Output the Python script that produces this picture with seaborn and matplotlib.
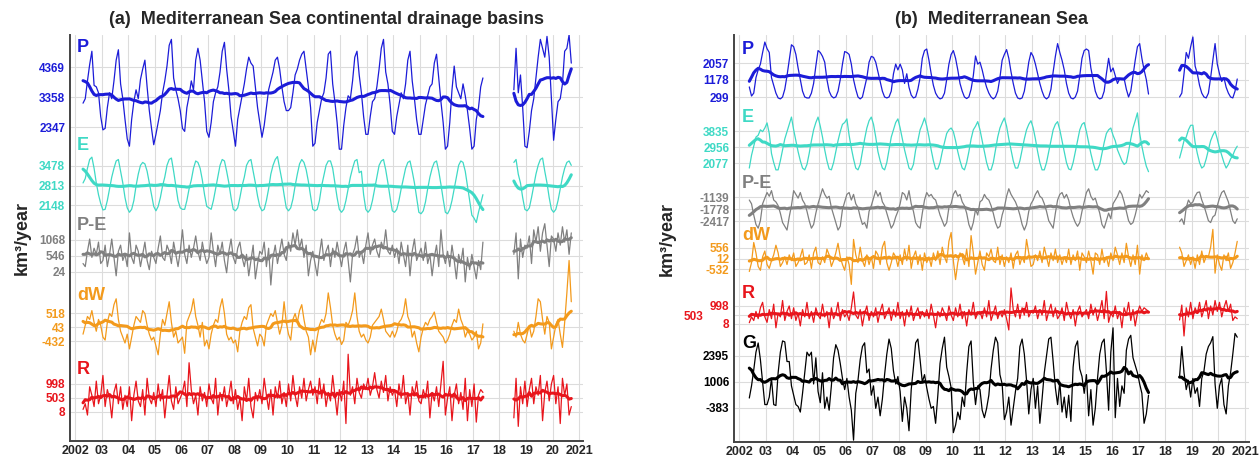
import numpy as np
import pandas as pd
import matplotlib
matplotlib.use("Agg")
import matplotlib.pyplot as plt
import seaborn as sns

N = np.nan
YEARS = list(range(2002, 2021))  # monthly values, Jan 2002 .. Dec 2020

# ---- (a) continental drainage basins, km3/year -------------------------
a_P = [
    N, N, N, 3150, 3300, 3900, 4450, 4900, 3750, 3700, 3500, 2700,
    2250, 2300, 3000, 3500, 3300, 3900, 4600, 4950, 3800, 3300, 2600, 1950,
    1700, 2600, 3200, 3600, 3300, 3950, 4300, 4600, 3700, 2900, 2300, 1750,
    2100, 2500, 2900, 3500, 3900, 4400, 5100, 5300, 4000, 3600, 3300, 2900,
    2300, 2200, 3000, 3400, 3900, 3600, 4600, 5000, 4600, 3900, 3200, 2200,
    2000, 2500, 3200, 3500, 3700, 4200, 4900, 5200, 4300, 3600, 2700, 2200,
    1700, 2600, 3000, 3400, 3800, 4300, 4700, 4500, 4400, 3700, 3000, 2500,
    2000, 2400, 3000, 3600, 3900, 4200, 4600, 4700, 4300, 3700, 3200, 2900,
    2900, 3000, 3500, 4100, 4300, 4600, 4800, 4900, 4300, 3700, 3000, 1700,
    1800, 2500, 2900, 3300, 3500, 4000, 4800, 4900, 3800, 3200, 2500, 1600,
    1600, 2400, 3000, 3400, 3300, 3900, 4700, 4900, 4100, 3500, 2700, 2100,
    2100, 2700, 3200, 3300, 3700, 4300, 5000, 5300, 4200, 3800, 3100, 2200,
    2100, 2700, 3100, 3500, 3300, 3800, 4600, 4900, 3900, 3300, 2600, 2100,
    2100, 2600, 3100, 3400, 3700, 3800, 4500, 4800, 4000, 3200, 2500, 1600,
    1700, 2500, 3600, 4400, 3700, 3500, 3300, 3800, 3400, 2900, 2300, 1600,
    1700, 2600, 3000, 3700, 4000, N, N, N, N, N, N, N,
    N, N, N, N, N, N, 3600, 5000, 3500, 4100, 3000, 1700,
    1650, 2200, 2900, 3300, 4000, 4700, 5300, 5000, 4700, 5400, 4700, 3300,
    1900, 2600, 3200, 3300, 3800, 4900, 5000, 5450, 4500, N, N, N,
]
a_E = [
    N, N, N, 2900, 3050, 3400, 3700, 3780, 3400, 2900, 2500, 2200,
    1980, 2000, 2300, 2700, 3100, 3400, 3650, 3700, 3300, 2900, 2400, 2050,
    1900, 2000, 2300, 2800, 3200, 3500, 3600, 3550, 3300, 2900, 2500, 2100,
    1950, 2100, 2400, 2800, 3100, 3500, 3700, 3750, 3300, 2800, 2300, 2050,
    2000, 2000, 2300, 2700, 3000, 3400, 3650, 3600, 3400, 3000, 2500, 2100,
    2050, 2000, 2300, 2700, 3100, 3500, 3700, 3650, 3300, 2900, 2400, 2000,
    1950, 2050, 2400, 2800, 3100, 3500, 3650, 3700, 3300, 2900, 2450, 2100,
    1950, 2000, 2300, 2700, 3200, 3500, 3700, 3800, 3400, 3000, 2500, 2050,
    1950, 2050, 2350, 2800, 3200, 3550, 3700, 3600, 3350, 2950, 2450, 2000,
    1950, 2000, 2300, 2800, 3150, 3500, 3650, 3650, 3400, 2900, 2400, 2000,
    1900, 2000, 2300, 2700, 3100, 3400, 3650, 3700, 3250, 3300, 2500, 2000,
    1900, 2000, 2300, 2700, 3100, 3500, 3650, 3700, 3350, 2900, 2400, 1950,
    1900, 2000, 2300, 2700, 3050, 3400, 3600, 3650, 3300, 2900, 2400, 1900,
    1850, 1950, 2250, 2700, 3100, 3400, 3600, 3650, 3300, 2850, 2350, 1900,
    1850, 2000, 2300, 2700, 3100, 3500, 3650, 3600, 3300, 2800, 2300, 1800,
    1700, 1550, 1900, 2200, 2500, N, N, N, N, N, N, N,
    N, N, N, N, N, N, 3600, 3700, 3200, 2900, 2400, 2000,
    1950, 2050, 2400, 2800, 3200, 3500, 3700, 3750, 3300, 2900, 2400, 2000,
    1900, 2000, 2300, 2700, 3100, 3400, 3600, 3650, 3500, N, N, N,
]
a_PE = [
    N, N, N, 300, 200, 700, 1100, 500, 800, 600, 1000, 300,
    400, 900, 200, 600, 1100, 500, -100, 700, 900, 400, 600, 200,
    1300, 500, 300, 900, 700, 200, 600, 1000, 400, 100, 700, 500,
    300, 800, 1200, 500, 400, 900, 700, 300, 1000, 600, 200, 700,
    1400, 600, 300, 900, 500, 800, 1200, 700, 400, 1000, 600, 300,
    500, 1300, 700, 200, 900, 600, 1000, 400, 0, 700, 1100, 500,
    300, 800, 1000, 500, 200, 600, -100, 400, 900, -200, 300, 700,
    600, 1000, 200, 800, -400, 500, 900, 300, 700, 1100, 600, 400,
    1000, 700, 1300, 900, 1400, 800, 1100, 500, 900, -100, 400, 700,
    300, -100, 600, 1100, 400, 700, 900, 200, 800, 500, 1000, 600,
    200, 700, 1000, 400, -300, 600, 800, 1200, 500, 700, 300, 900,
    1300, 600, 900, 1100, 700, 500, 1000, 800, 1400, 700, 600, 900,
    500, 800, 300, 1000, 600, 200, 900, -100, 700, 1100, 400, 600,
    800, 400, 1000, 300, 600, -100, 500, 900, 200, 1400, 600, 300,
    700, 200, 900, 400, -200, 600, 300, 800, -300, 500, 100, 600,
    200, -200, 400, 100, 1000, N, N, N, N, N, N, N,
    N, N, N, N, N, N, 600, 1300, -200, 1100, 500, 900,
    800, 1200, 300, 1400, 1000, 1500, 700, 1300, 1600, 900, 200, 1200,
    1100, 700, 1300, 900, 1500, 1000, 1400, 600, 1300, N, N, N,
]
a_dW = [
    N, N, N, -200, 100, 400, 300, 600, 200, -100, 300, 100,
    -300, -400, 200, 500, 400, 800, 1000, 300, -100, -300, -500, -200,
    -700, -300, 100, 400, 300, 200, 600, 500, 100, -200, -400, -300,
    -600, -900, -200, 300, 100, 500, 900, 200, -300, -100, -500, -400,
    -300, -850, 200, 400, 600, 1000, 400, 100, -300, 200, -600, -400,
    -700, -200, 100, 300, 200, 700, 1000, 500, -200, -400, -300, -500,
    -400, -800, -100, 200, 400, 300, 700, 800, 0, -300, -600, -200,
    -300, -600, 100, 300, 500, 400, 600, 200, -200, 100, 900, 200,
    -200, -400, 300, 500, 200, 600, 800, 300, -100, -300, -900, -400,
    -800, -300, 100, 300, 200, 500, 1200, 700, 100, -200, -400, -300,
    -550, -400, 200, 100, 300, 600, 1200, 400, -100, -300, -200, -400,
    -500, -300, 100, 200, 300, 400, 650, 300, -100, -200, -300, -100,
    -300, -100, 200, 300, 500, 1000, 400, 200, -300, -100, -500, -800,
    -300, 0, 200, 100, 300, 400, 550, 200, -100, -200, -300, -500,
    -400, -200, 100, 300, 200, 650, 300, 100, -300, -100, -200, -400,
    -300, -100, -700, -500, 150, N, N, N, N, N, N, N,
    N, N, N, N, N, N, -100, -300, 200, -200, -400, -500,
    -200, 100, -300, -100, 400, 1000, 900, 300, -200, 400, 200, -700,
    -300, 100, 300, -200, -650, 200, 1200, 2300, 900, N, N, N,
]
a_R = [
    N, N, N, 100, 300, -100, 900, 600, 200, 1100, 300, 600,
    1300, 200, 800, 500, -200, 700, 1000, 300, 900, 100, 600, 200,
    900, -300, 600, 1100, 400, 200, 800, -100, 1200, 500, 300, 700,
    200, 1000, 400, 800, -200, 600, 1300, 400, 100, 900, 300, 500,
    700, 1100, 200, 1750, 800, 300, 600, -100, 900, 400, 700, 200,
    1000, 500, 300, 1200, -100, 700, 400, 900, 200, 600, 1100, 300,
    800, 100, 500, -300, 900, 400, 1200, 200, -200, 700, 400, 800,
    300, 1200, 600, 100, 800, -100, 900, 500, 1100, 300, 700, 200,
    1000, 400, 1300, 600, 200, 900, 500, 1200, 400, 800, 1100, 600,
    900, 300, 1200, 500, 1000, 200, 700, 400, 1300, 600, -100, 800,
    400, 1100, -400, 2050, 600, 900, 300, 1200, 700, 500, 1000, 800,
    1200, 600, 900, 1400, 800, 500, 1100, 700, 1300, 400, 900, 600,
    800, 200, 1000, 500, 1300, 300, 700, -100, 900, 600, 1100, 400,
    300, 800, 500, 1100, -200, 700, 400, 900, 200, 1000, 1800, -100,
    500, 900, -300, 600, 1000, 300, 700, 100, 1200, -300, 800, 200,
    1000, -350, 600, 800, 700, N, N, N, N, N, N, N,
    N, N, N, N, N, N, -200, 1200, -500, 900, 300, 1100,
    200, 800, 1200, 300, 900, 600, 1300, -300, 700, 1100, 400, 1000,
    1300, 300, 900, -400, 1200, 600, 1000, -100, 200, N, N, N,
]

# ---- (b) Mediterranean Sea, km3/year -----------------------------------
b_P = [
    N, N, N, N, 820, 350, 500, 1300, 1700, 2000, 2600, 3140,
    2800, 2600, 1300, 900, 500, 250, 200, 300, 700, 1400, 2200, 3000,
    2900, 2500, 1800, 1200, 600, 300, 250, 250, 500, 1000, 1900, 2700,
    2600, 2400, 2100, 1200, 600, 350, 250, 300, 600, 1200, 2000, 2650,
    2600, 2500, 2000, 1200, 700, 300, 200, 300, 800, 1300, 2100, 2400,
    2350, 2100, 1600, 1100, 600, 300, 250, 300, 600, 1500, 2000, 1700,
    2000, 1700, 1000, 1500, 800, 400, 250, 300, 700, 1300, 2300, 2700,
    2780, 2200, 1500, 900, 500, 300, 200, 250, 500, 1200, 2000, 2500,
    2700, 2300, 1700, 1000, 600, 300, 220, 300, 700, 1400, 2420, 2000,
    2100, 1700, 1200, 800, 500, 300, 200, 300, 600, 1300, 2200, 2500,
    2750, 2300, 1600, 1000, 500, 250, 200, 250, 600, 1300, 2100, 2600,
    2400, 2000, 1500, 1000, 600, 300, 200, 300, 700, 1600, 2400, 3060,
    2600, 2200, 1700, 1000, 500, 250, 200, 300, 600, 1400, 2300, 2700,
    2780, 2700, 1800, 1200, 600, 300, 200, 250, 600, 1500, 2300, 1600,
    1800, 1400, 1000, 1250, 1200, 1250, 700, 300, 600, 1400, 2200, 2900,
    3060, 2300, 1700, 1200, 450, N, N, N, N, N, N, N,
    N, N, N, N, N, N, 300, 500, 1500, 2600, 2300, 2900,
    3400, 1900, 1500, 900, 500, 300, 250, 500, 1300, 2200, 3060, 2000,
    1500, 1100, 1300, 800, 500, 300, 250, 600, 1230, N, N, N,
]
b_E = [
    N, N, N, N, 1800, 2500, 3000, 3500, 3600, 3900, 3800, 4000,
    4280, 3700, 2600, 2100, 1700, 1700, 2200, 2800, 3400, 3800, 4200, 4600,
    3900, 3300, 2700, 2200, 1800, 1700, 2000, 2600, 3300, 3900, 4300, 4600,
    4100, 3500, 2800, 2200, 1750, 1700, 2100, 2700, 3300, 3800, 4200, 4300,
    4500, 3600, 2900, 2300, 1800, 1700, 2000, 2700, 3400, 4000, 4400, 4600,
    4200, 3500, 2700, 2200, 1800, 1700, 2100, 2800, 3500, 3900, 4300, 4500,
    4000, 3400, 2800, 2300, 1800, 1700, 2000, 2800, 3300, 3900, 4200, 4550,
    4100, 3500, 2800, 2200, 1750, 1750, 2100, 2700, 3200, 3700, 3900, 4000,
    3800, 3300, 2700, 2200, 1800, 1700, 2100, 2700, 3400, 3900, 4100, 4350,
    3900, 3300, 2700, 2100, 1700, 1700, 2100, 2800, 3500, 4000, 4300, 4550,
    4100, 3400, 2800, 2200, 1800, 1800, 2200, 2800, 3400, 3900, 4200, 4400,
    4000, 3400, 2700, 2100, 1700, 1700, 2100, 2700, 3300, 3900, 4200, 4350,
    3900, 3300, 2700, 2100, 1750, 1700, 2100, 2700, 3300, 3900, 4200, 4300,
    3800, 3200, 2600, 2100, 1700, 1700, 2000, 2600, 3200, 3700, 3900, 4000,
    3600, 3300, 2800, 2500, 2200, 2000, 2100, 2700, 3400, 4000, 4400, 4830,
    3700, 3000, 2400, 1900, 1600, N, N, N, N, N, N, N,
    N, N, N, N, N, N, 2350, 2800, 3300, 3500, 3900, 4150,
    4150, 3200, 2600, 2100, 1800, 1900, 2300, 2800, 3300, 3600, 3830, 3400,
    2900, 2500, 2100, 1800, 2000, 2300, 2500, 2800, 3000, N, N, N,
]
b_PE = [
    N, N, N, N, -1300, -1500, -2100, -2600, -2800, -2400, -1500, -1200,
    -900, -1100, -800, -1300, -1400, -1600, -2000, -2500, -2700, -2900, -2200, -1600,
    -800, -1000, -1200, -900, -1300, -1500, -1900, -2400, -2800, -2600, -2000, -1500,
    -1100, -700, -1000, -1200, -1100, -1700, -2100, -2500, -2900, -2700, -1800, -1400,
    -1000, -900, -1300, -1000, -1500, -1700, -2200, -2600, -2500, -2800, -1900, -1600,
    -1200, -800, -1100, -900, -1400, -1600, -2000, -2400, -2800, -2600, -2200, -1900,
    -1500, -900, -1000, -1300, -800, -1500, -1900, -2500, -2700, -2800, -2000, -1300,
    -900, -1100, -1000, -1200, -1300, -1700, -2100, -2400, -2700, -2500, -1700, -1500,
    -1000, -800, -1100, -1000, -1400, -1600, -2000, -2600, -2900, -2500, -1800, -2100,
    -1400, -1300, -1000, -1200, -1300, -1600, -2000, -2500, -2800, -2700, -2100, -1700,
    -1100, -700, -1000, -1200, -1400, -1700, -2100, -2600, -2900, -2600, -1900, -1500,
    -1300, -1000, -800, -1100, -1200, -1500, -1900, -2400, -2600, -2800, -2000, -1300,
    -1000, -900, -1200, -1000, -1300, -1800, -2200, -2500, -2700, -2500, -1900, -1400,
    -900, -700, -1100, -1300, -1200, -1600, -2000, -2600, -2800, -2400, -2000, -2300,
    -1500, -1300, -1100, -800, -1000, -1400, -1900, -2400, -2600, -2500, -2100, -1600,
    -1000, -1200, -1000, -800, -900, N, N, N, N, N, N, N,
    N, N, N, N, N, N, -2450, -2300, -2600, -1700, -1300, -1500,
    -1400, -1100, -900, -870, -1300, -1600, -2000, -2400, -2500, -2200, -2100, -1600,
    -1200, -900, -800, -1100, -1400, -1900, -2400, -2550, -2300, N, N, N,
]
b_dW = [
    N, N, N, N, -660, -200, 840, 300, -400, -600, 100, 400,
    -300, -500, -100, 200, 700, 300, -400, -200, 100, -300, 200, -100,
    300, -400, -200, 100, 500, -300, -200, 200, -500, 300, 600, -200,
    -300, 100, -200, 500, 200, -400, -100, 300, 800, 100, -300, -600,
    100, -300, -1330, 1000, 200, -200, 600, -100, -400, 200, -300, 100,
    -500, 400, 200, -300, 600, 900, -200, -600, -200, 300, 100, -400,
    200, -300, 500, -100, 700, -500, 100, 400, -300, 200, -600, 300,
    -200, 100, -400, 300, -100, 400, -300, 600, 100, -200, 900, 1360,
    -100, -1080, -200, 300, 100, -300, 500, -400, 1200, 300, -800, -200,
    400, -300, -600, 300, 100, 500, -100, -200, 600, -300, 200, -400,
    100, -200, 300, -500, 200, 400, -300, 100, -200, 1000, 300, -400,
    -300, 200, -100, 400, -200, 600, 100, -400, 300, -100, 500, -200,
    200, -300, 100, -200, 500, -300, 200, -100, 400, -600, 300, 100,
    -200, 400, -100, -800, 300, 200, -300, 500, -200, 100, -400, 300,
    -100, 600, 200, -300, 300, -200, 800, 100, -400, 200, -300, 700,
    -800, 200, -100, 300, 0, N, N, N, N, N, N, N,
    N, N, N, N, N, N, 600, 300, -400, -100, 200, -300,
    100, -500, 200, -300, 400, -200, 100, 100, 600, 1520, -750, 200,
    -300, -600, 200, -100, 300, -500, -200, 300, 900, N, N, N,
]
b_R = [
    N, N, N, N, 80, 400, 200, 700, 300, 900, 1200, 400,
    100, 800, 300, 1100, -200, 600, 400, 1300, 200, 700, 1000, 300,
    900, 200, 600, -100, 800, 400, 1200, 300, 700, 100, 900, 500,
    300, 1100, 400, 700, -200, 900, 300, 600, 1200, 200, 800, 400,
    600, 200, 900, 1770, 500, 300, 800, -100, 600, 1000, 200, 700,
    400, 900, 100, 700, 1100, 300, 600, 900, 200, 800, 400, 1200,
    300, 700, -100, 800, 400, 1000, 200, 600, 900, 300, 700, 400,
    800, 300, 1100, 500, -200, 700, 400, 900, 600, 200, 1000, 500,
    200, 900, 400, 1100, 300, 700, -100, 800, 500, 1200, 300, 600,
    700, 300, 900, 400, 1300, 200, 600, 1000, 300, 700, 400, 800,
    300, -320, 1990, 800, 400, 1100, 300, 900, 500, 1200, 400, 700,
    600, 1000, 300, 800, 500, 1300, 200, 700, 1100, 400, 900, 300,
    500, 900, 200, 1200, 600, 300, 800, -100, 700, 1000, 400, 600,
    800, 300, 1100, 500, 900, 200, 700, 1300, 300, 1800, 100, 600,
    400, 1000, 300, 700, -200, 900, 500, 1200, 200, 800, -100, 600,
    1000, 700, 900, 800, 700, N, N, N, N, N, N, N,
    N, N, N, N, N, N, 230, 1050, -650, 900, 400, 1200,
    300, 900, 600, 1200, 400, 800, 1300, 300, 1000, 500, 1300, 700,
    1200, 400, 900, 1300, 700, 1100, 200, 400, 300, N, N, N,
]
b_G = [
    N, N, N, N, 150, 800, 1650, 2600, 3090, 2200, 1000, -200,
    -200, 200, 1200, -200, -250, 1500, 2600, 3200, 3150, 2100, 2100, 800,
    300, -200, -300, -600, 400, 1500, 2600, 2400, 2600, 900, 2300, 500,
    -100, 1500, -400, 200, -500, 800, 2300, 3000, 2700, 2000, 1200, 600,
    1200, 200, -500, -2100, 400, 1100, 2200, 2900, 3100, 1500, 1700, 300,
    800, -400, 200, -800, 100, 1400, 2500, 3300, 2800, 1600, 900, 1300,
    500, -1100, 200, -400, -1600, 600, 1800, 3100, 3300, 2200, 1000, 1400,
    700, 100, -400, -300, -1200, 300, 2000, 2800, 3400, 1800, 1300, 700,
    -1700, -1300, -600, -1000, 200, -300, 1500, 2900, 3200, 1000, -200, 800,
    600, -500, -900, -400, 300, 1700, 2700, 3400, 3100, 1400, 900, -1000,
    -600, 200, -1300, -400, 500, 1200, 2900, 3300, 2500, 1100, -700, 600,
    1200, -400, 800, -1200, 100, 1500, 2400, 3300, 3400, 2100, 700, -200,
    1000, -600, 200, -900, 300, -1100, 1800, 2900, 3200, 1700, 1300, 400,
    1400, -800, 600, -1300, -400, 1200, 2500, 3100, 3300, 1600, -500, 2600,
    3900, -900, 1200, -300, 800, 400, 2700, 3300, 3500, 2300, 1900, 1500,
    900, 400, -1200, -700, 300, N, N, N, N, N, N, N,
    N, N, N, N, N, N, 1300, 2900, 1500, 600, 1100, 200,
    1200, 400, 700, -300, 1200, 1600, 2500, 2900, 3100, 3430, 900, -400,
    800, 1200, -200, -700, 800, 1500, 2500, 3600, 3400, N, N, N,
]

# tick values shown on the y axis for each series (top, middle, bottom)
a_ticks = {"P": [4369, 3358, 2347], "E": [3478, 2813, 2148],
           "P-E": [1068, 546, 24], "dW": [518, 43, -432], "R": [998, 503, 8]}
b_ticks = {"P": [2057, 1178, 299], "E": [3835, 2956, 2077],
           "P-E": [-1139, -1778, -2417], "dW": [556, 12, -532],
           "R": [998, 503, 8], "G": [2395, 1006, -383]}

COLORS = {"P": "#1c1cd8", "E": "#3fd9c5", "P-E": "#808080",
          "dW": "#f39a1c", "R": "#e8151c", "G": "#000000"}

# layout: pixel rows of top / bottom tick for each stacked series
a_rows = {"P": (67, 127), "E": (166, 205), "P-E": (240, 272),
          "dW": (313, 341), "R": (384, 412)}
b_rows = {"P": (63, 97), "E": (131, 163), "P-E": (197, 221),
          "dW": (248, 269), "R": (306, 324), "G": (356, 408)}
a_name_y = {"P": 47, "E": 145, "P-E": 225, "dW": 296, "R": 370}
b_name_y = {"P": 50, "E": 118, "P-E": 184, "dW": 235, "R": 293, "G": 343}

W, H = 1260, 459
FONT = ["Liberation Sans", "DejaVu Sans"]

sns.set_theme(style="white")
plt.rcParams["font.family"] = FONT

t = np.array([y + (m + 0.5) / 12 for y in YEARS for m in range(12)])


def to_row(vals, ticks, rows):
    hi, lo = ticks[0], ticks[-1]
    y0, y1 = rows
    return y0 + (hi - np.asarray(vals, dtype=float)) * (y1 - y0) / (hi - lo)


def draw_panel(ax, series, ticks, rows, title, ybottom):
    tick_pos, tick_lab, tick_col = [], [], []
    for name, vals in series.items():
        assert len(vals) == len(t), (name, len(vals))
        s = pd.Series(vals, dtype=float)
        # 12-month running mean (thick line)
        smooth = s.rolling(12, center=True, min_periods=6).mean()
        smooth[s.isna()] = np.nan
        seg = s.isna().cumsum()
        df = pd.DataFrame({"t": t, "seg": seg,
                           "thin": to_row(s, ticks[name], rows[name]),
                           "thick": to_row(smooth, ticks[name], rows[name])})
        sns.lineplot(data=df, x="t", y="thin", units="seg", estimator=None,
                     color=COLORS[name], lw=0.9, ax=ax, legend=False)
        sns.lineplot(data=df, x="t", y="thick", units="seg", estimator=None,
                     color=COLORS[name], lw=2.2, ax=ax, legend=False)
        for v in ticks[name]:
            tick_pos.append(float(to_row([v], ticks[name], rows[name])[0]))
            tick_lab.append(str(v))
            tick_col.append(COLORS[name])

    ax.set_xlim(2001.8, 2021.15)
    ax.set_ylim(ybottom, 35)
    ax.set_xticks(range(2002, 2022))
    ax.set_xticklabels(["2002"] + [f"{y % 100:02d}" for y in range(2003, 2021)] + ["2021"],
                       fontsize=9, fontweight="bold")
    ax.set_yticks(tick_pos)
    ax.set_yticklabels(tick_lab, fontsize=8.5, fontweight="bold")
    for lbl, c in zip(ax.get_yticklabels(), tick_col):
        lbl.set_color(c)
    ax.tick_params(axis="both", direction="in", length=4, width=1.2,
                   color="#444444")
    ax.tick_params(axis="y", pad=3.5)
    ax.tick_params(axis="x", pad=3)
    ax.grid(True, color="#dcdcdc", lw=0.8)
    ax.set_axisbelow(True)
    for side in ["top", "right"]:
        ax.spines[side].set_visible(False)
    for side in ["left", "bottom"]:
        ax.spines[side].set_color("#444444")
        ax.spines[side].set_linewidth(1.4)
    ax.set_xlabel("")
    ax.set_ylabel("km³/year", fontsize=13, fontweight="bold")
    ax.set_title(title, fontsize=13, fontweight="bold", pad=8)
    return tick_lab


fig = plt.figure(figsize=(W / 100, H / 100), dpi=100)
ax_a = fig.add_axes([70 / W, (H - 441) / H, 513 / W, 406 / H])
ax_b = fig.add_axes([734 / W, (H - 442) / H, 515 / W, 407 / H])

draw_panel(ax_a, {"P": a_P, "E": a_E, "P-E": a_PE, "dW": a_dW, "R": a_R},
           a_ticks, a_rows, "(a)  Mediterranean Sea continental drainage basins", 441)
labs_b = draw_panel(ax_b, {"P": b_P, "E": b_E, "P-E": b_PE, "dW": b_dW,
                           "R": b_R, "G": b_G},
                    b_ticks, b_rows, "(b)  Mediterranean Sea", 442)

# the crowded R ticks on panel (b): middle label pushed left
r_mid = labs_b.index("503")
ax_b.yaxis.get_major_ticks()[r_mid].set_pad(22)

ax_a.yaxis.set_label_coords((31 - 70) / 513, 0.5)
ax_b.yaxis.set_label_coords((676 - 734) / 515, 0.5)

for name, y in a_name_y.items():
    fig.text(77 / W, 1 - y / H, name, color=COLORS[name], fontsize=13,
             fontweight="bold", ha="left", va="center")
for name, y in b_name_y.items():
    fig.text(742 / W, 1 - y / H, name, color=COLORS[name], fontsize=13,
             fontweight="bold", ha="left", va="center")

fig.savefig("out.png", dpi=100)
